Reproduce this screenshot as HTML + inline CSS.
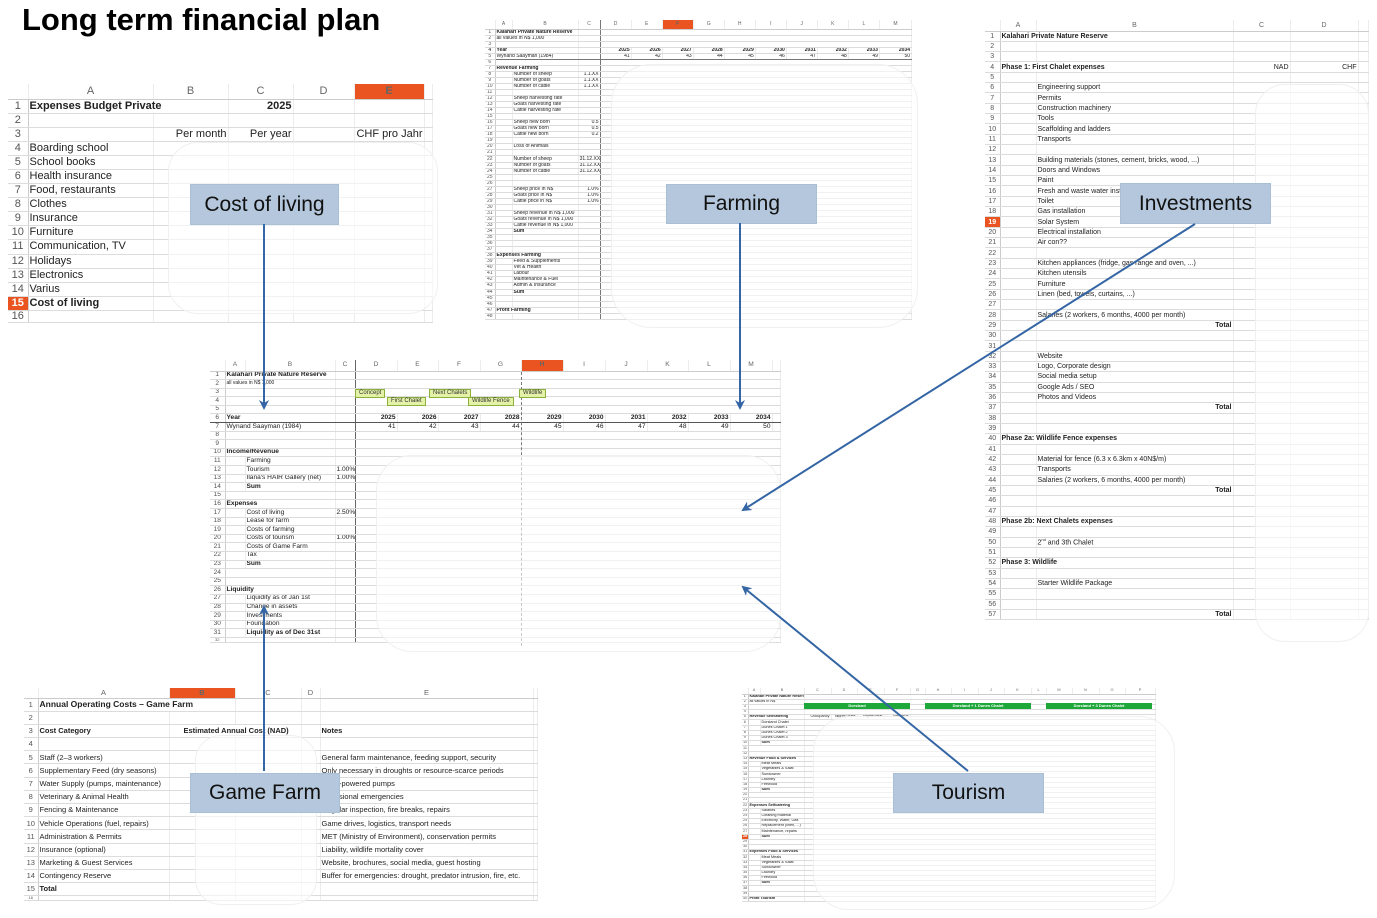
<!DOCTYPE html>
<html><head><meta charset="utf-8">
<style>
body{margin:0;width:1377px;height:918px;background:#fff;position:relative;overflow:hidden;font-family:"Liberation Sans",sans-serif;}
.a{position:absolute}
table.t{position:absolute;border-collapse:collapse;table-layout:fixed;font-family:"Liberation Sans",sans-serif;color:#222}
table.t td{padding:0 1px;white-space:nowrap;overflow:hidden;border-bottom:1px solid #dcdcdc;border-right:1px solid #ececec;line-height:1}
table.t tr.h td{color:#666;text-align:center;border-bottom:1px solid #ccc}
table.t td.n{color:#555;text-align:center;border-right:1px solid #ccc}
table.t td.o{background:#e95420;color:#fff;font-weight:bold}
.r{text-align:right}.b{font-weight:bold}
.ov{position:absolute;border:1px solid #f0f0f0;border-radius:30px;background:rgba(255,255,255,0.6)}
.lb{position:absolute;background:#b4c7dc;border:1px solid #a9bfd6;color:#111;font-size:21px;display:flex;align-items:center;justify-content:center;font-family:"Liberation Sans",sans-serif}
.tag{position:absolute;background:#e4f2a8;border:1px solid #8cb03c;font-size:6px;line-height:7px;height:7px;padding:0 3px;color:#333;font-family:"Liberation Sans",sans-serif}
.gb{position:absolute;background:#1ea83a;color:#fff;font-size:4px;text-align:center;line-height:6px;height:6px;font-family:"Liberation Sans",sans-serif;font-weight:bold}
</style></head><body>

<div class="a" style="left:22px;top:2px;font-size:31px;font-weight:bold;color:#000">Long term financial plan</div>

<!-- Sheet 1: Cost of living -->
<table class="t" style="left:8px;top:84px;width:424px;font-size:11px">
<colgroup><col style="width:20px"><col style="width:125px"><col style="width:75px"><col style="width:65px"><col style="width:61px"><col style="width:70px"><col style="width:8px"></colgroup>
<tr class="h" style="height:15px"><td></td><td>A</td><td>B</td><td>C</td><td>D</td><td class="o">E</td><td></td></tr>
<tr style="height:14.1px"><td class="n">1</td><td class="b" colspan="2">Expenses Budget Private</td><td class="r b">2025</td><td></td><td></td><td></td></tr>
<tr style="height:14.1px"><td class="n">2</td><td></td><td></td><td></td><td></td><td></td><td></td></tr>
<tr style="height:14.1px"><td class="n">3</td><td></td><td class="r">Per month</td><td class="r">Per year</td><td></td><td class="r">CHF pro Jahr</td><td></td></tr>
<tr style="height:14.1px"><td class="n">4</td><td>Boarding school</td><td></td><td></td><td></td><td></td><td></td></tr>
<tr style="height:14.1px"><td class="n">5</td><td>School books</td><td></td><td></td><td></td><td></td><td></td></tr>
<tr style="height:14.1px"><td class="n">6</td><td>Health insurance</td><td></td><td></td><td></td><td></td><td></td></tr>
<tr style="height:14.1px"><td class="n">7</td><td>Food, restaurants</td><td></td><td></td><td></td><td></td><td></td></tr>
<tr style="height:14.1px"><td class="n">8</td><td>Clothes</td><td></td><td></td><td></td><td></td><td></td></tr>
<tr style="height:14.1px"><td class="n">9</td><td>Insurance</td><td></td><td></td><td></td><td></td><td></td></tr>
<tr style="height:14.1px"><td class="n">10</td><td>Furniture</td><td></td><td></td><td></td><td></td><td></td></tr>
<tr style="height:14.1px"><td class="n">11</td><td>Communication, TV</td><td></td><td></td><td></td><td></td><td></td></tr>
<tr style="height:14.1px"><td class="n">12</td><td>Holidays</td><td></td><td></td><td></td><td></td><td></td></tr>
<tr style="height:14.1px"><td class="n">13</td><td>Electronics</td><td></td><td></td><td></td><td></td><td></td></tr>
<tr style="height:14.1px"><td class="n">14</td><td>Varius</td><td></td><td></td><td></td><td></td><td></td></tr>
<tr style="height:14.1px"><td class="n o">15</td><td class="b">Cost of living</td><td></td><td></td><td></td><td></td><td></td></tr>
<tr style="height:10px"><td class="n">16</td><td></td><td></td><td></td><td></td><td></td><td></td></tr>
</table>
<div class="ov" style="left:168px;top:142px;width:268px;height:170px"></div>

<!-- Sheet 2: Farming -->
<table class="t" style="left:485px;top:20px;width:427px;font-size:5px">
<colgroup><col style="width:10px"><col style="width:17px"><col style="width:66px"><col style="width:22px"><col style="width:31px"><col style="width:31px"><col style="width:31px"><col style="width:31px"><col style="width:31px"><col style="width:31px"><col style="width:31px"><col style="width:31px"><col style="width:31px"><col style="width:32px"></colgroup>
<tr class="h" style="height:9px"><td></td><td>A</td><td>B</td><td style="border-right:1px solid #777">C</td><td>D</td><td>E</td><td class="o">F</td><td>G</td><td>H</td><td>I</td><td>J</td><td>K</td><td>L</td><td>M</td></tr>
<tr style="height:6.05px"><td class="n">1</td><td colspan="2" class="b">Kalahari Private Nature Reserve</td><td style="border-right:1px solid #777"></td><td colspan="10"></td></tr>
<tr style="height:6.05px"><td class="n">2</td><td colspan="2">all values in N$ 1,000</td><td style="border-right:1px solid #777"></td><td colspan="10"></td></tr>
<tr style="height:6.05px"><td class="n">3</td><td colspan="2"></td><td style="border-right:1px solid #777"></td><td colspan="10"></td></tr>
<tr style="height:6.05px" class="b"><td class="n">4</td><td colspan="2">Year</td><td style="border-right:1px solid #777"></td><td class="r">2025</td><td class="r">2026</td><td class="r">2027</td><td class="r">2028</td><td class="r">2029</td><td class="r">2030</td><td class="r">2031</td><td class="r">2032</td><td class="r">2033</td><td class="r">2034</td></tr>
<tr style="height:6.05px"><td class="n">5</td><td colspan="2" style="border-bottom:1px solid #777">Wynand Saayman (1984)</td><td style="border-right:1px solid #777;border-bottom:1px solid #777"></td><td class="r" style="border-bottom:1px solid #777">41</td><td class="r" style="border-bottom:1px solid #777">42</td><td class="r" style="border-bottom:1px solid #777">43</td><td class="r" style="border-bottom:1px solid #777">44</td><td class="r" style="border-bottom:1px solid #777">45</td><td class="r" style="border-bottom:1px solid #777">46</td><td class="r" style="border-bottom:1px solid #777">47</td><td class="r" style="border-bottom:1px solid #777">48</td><td class="r" style="border-bottom:1px solid #777">49</td><td class="r" style="border-bottom:1px solid #777">50</td></tr>
<tr style="height:6.05px"><td class="n">6</td><td colspan="2"></td><td style="border-right:1px solid #777"></td><td colspan="10"></td></tr>
<tr style="height:6.05px"><td class="n">7</td><td colspan="2" class="b">Revenue Farming</td><td style="border-right:1px solid #777"></td><td colspan="10"></td></tr>
<tr style="height:6.05px"><td class="n">8</td><td></td><td>Number of sheep</td><td class="r" style="border-right:1px solid #777">1.1.XX</td><td colspan="10"></td></tr>
<tr style="height:6.05px"><td class="n">9</td><td></td><td>Number of goats</td><td class="r" style="border-right:1px solid #777">1.1.XX</td><td colspan="10"></td></tr>
<tr style="height:6.05px"><td class="n">10</td><td></td><td>Number of cattle</td><td class="r" style="border-right:1px solid #777">1.1.XX</td><td colspan="10"></td></tr>
<tr style="height:6.05px"><td class="n">11</td><td></td><td></td><td style="border-right:1px solid #777"></td><td colspan="10"></td></tr>
<tr style="height:6.05px"><td class="n">12</td><td></td><td>Sheep harvesting rate</td><td style="border-right:1px solid #777"></td><td colspan="10"></td></tr>
<tr style="height:6.05px"><td class="n">13</td><td></td><td>Goats harvesting rate</td><td style="border-right:1px solid #777"></td><td colspan="10"></td></tr>
<tr style="height:6.05px"><td class="n">14</td><td></td><td>Cattle harvesting rate</td><td style="border-right:1px solid #777"></td><td colspan="10"></td></tr>
<tr style="height:6.05px"><td class="n">15</td><td></td><td></td><td style="border-right:1px solid #777"></td><td colspan="10"></td></tr>
<tr style="height:6.05px"><td class="n">16</td><td></td><td>Sheep new born</td><td class="r" style="border-right:1px solid #777">0.5</td><td colspan="10"></td></tr>
<tr style="height:6.05px"><td class="n">17</td><td></td><td>Goats new born</td><td class="r" style="border-right:1px solid #777">0.5</td><td colspan="10"></td></tr>
<tr style="height:6.05px"><td class="n">18</td><td></td><td>Cattle new born</td><td class="r" style="border-right:1px solid #777">0.2</td><td colspan="10"></td></tr>
<tr style="height:6.05px"><td class="n">19</td><td></td><td></td><td style="border-right:1px solid #777"></td><td colspan="10"></td></tr>
<tr style="height:6.05px"><td class="n">20</td><td></td><td>Loss of Animals</td><td style="border-right:1px solid #777"></td><td colspan="10"></td></tr>
<tr style="height:6.05px"><td class="n">21</td><td></td><td></td><td style="border-right:1px solid #777"></td><td colspan="10"></td></tr>
<tr style="height:6.05px"><td class="n">22</td><td></td><td>Number of sheep</td><td class="r" style="border-right:1px solid #777">31.12.XX</td><td colspan="10"></td></tr>
<tr style="height:6.05px"><td class="n">23</td><td></td><td>Number of goats</td><td class="r" style="border-right:1px solid #777">31.12.XX</td><td colspan="10"></td></tr>
<tr style="height:6.05px"><td class="n">24</td><td></td><td>Number of cattle</td><td class="r" style="border-right:1px solid #777">31.12.XX</td><td colspan="10"></td></tr>
<tr style="height:6.05px"><td class="n">25</td><td></td><td></td><td style="border-right:1px solid #777"></td><td colspan="10"></td></tr>
<tr style="height:6.05px"><td class="n">26</td><td></td><td></td><td style="border-right:1px solid #777"></td><td colspan="10"></td></tr>
<tr style="height:6.05px"><td class="n">27</td><td></td><td>Sheep price in N$</td><td class="r" style="border-right:1px solid #777">1.0%</td><td colspan="10"></td></tr>
<tr style="height:6.05px"><td class="n">28</td><td></td><td>Goats price in N$</td><td class="r" style="border-right:1px solid #777">1.0%</td><td colspan="10"></td></tr>
<tr style="height:6.05px"><td class="n">29</td><td></td><td>Cattle price in N$</td><td class="r" style="border-right:1px solid #777">1.0%</td><td colspan="10"></td></tr>
<tr style="height:6.05px"><td class="n">30</td><td></td><td></td><td style="border-right:1px solid #777"></td><td colspan="10"></td></tr>
<tr style="height:6.05px"><td class="n">31</td><td></td><td>Sheep revenue in N$ 1,000</td><td style="border-right:1px solid #777"></td><td colspan="10"></td></tr>
<tr style="height:6.05px"><td class="n">32</td><td></td><td>Goats revenue in N$ 1,000</td><td style="border-right:1px solid #777"></td><td colspan="10"></td></tr>
<tr style="height:6.05px"><td class="n">33</td><td></td><td>Cattle revenue in N$ 1,000</td><td style="border-right:1px solid #777"></td><td colspan="10"></td></tr>
<tr style="height:6.05px"><td class="n">34</td><td></td><td class="b">Sum</td><td style="border-right:1px solid #777"></td><td colspan="10"></td></tr>
<tr style="height:6.05px"><td class="n">35</td><td></td><td></td><td style="border-right:1px solid #777"></td><td colspan="10"></td></tr>
<tr style="height:6.05px"><td class="n">36</td><td></td><td></td><td style="border-right:1px solid #777"></td><td colspan="10"></td></tr>
<tr style="height:6.05px"><td class="n">37</td><td></td><td></td><td style="border-right:1px solid #777"></td><td colspan="10"></td></tr>
<tr style="height:6.05px"><td class="n">38</td><td colspan="2" class="b">Expenses Farming</td><td style="border-right:1px solid #777"></td><td colspan="10"></td></tr>
<tr style="height:6.05px"><td class="n">39</td><td></td><td>Feed &amp; Supplements</td><td style="border-right:1px solid #777"></td><td colspan="10"></td></tr>
<tr style="height:6.05px"><td class="n">40</td><td></td><td>Vet &amp; Health</td><td style="border-right:1px solid #777"></td><td colspan="10"></td></tr>
<tr style="height:6.05px"><td class="n">41</td><td></td><td>Labour</td><td style="border-right:1px solid #777"></td><td colspan="10"></td></tr>
<tr style="height:6.05px"><td class="n">42</td><td></td><td>Maintenance &amp; Fuel</td><td style="border-right:1px solid #777"></td><td colspan="10"></td></tr>
<tr style="height:6.05px"><td class="n">43</td><td></td><td>Admin &amp; Insurance</td><td style="border-right:1px solid #777"></td><td colspan="10"></td></tr>
<tr style="height:6.05px"><td class="n">44</td><td></td><td class="b">Sum</td><td style="border-right:1px solid #777"></td><td colspan="10"></td></tr>
<tr style="height:6.05px"><td class="n">45</td><td></td><td></td><td style="border-right:1px solid #777"></td><td colspan="10"></td></tr>
<tr style="height:6.05px"><td class="n">46</td><td></td><td></td><td style="border-right:1px solid #777"></td><td colspan="10"></td></tr>
<tr style="height:6.05px"><td class="n">47</td><td colspan="2" class="b">Profit Farming</td><td style="border-right:1px solid #777"></td><td colspan="10"></td></tr>
<tr style="height:5px"><td class="n">48</td><td></td><td></td><td style="border-right:1px solid #777"></td><td colspan="10"></td></tr>
</table>
<div class="ov" style="left:611px;top:64px;width:305px;height:262px;border-radius:40px"></div>

<!-- Sheet 3: Investments -->
<table class="t" style="left:985px;top:20px;width:383px;font-size:7px">
<colgroup><col style="width:15px"><col style="width:36px"><col style="width:197px"><col style="width:57px"><col style="width:68px"><col style="width:10px"></colgroup>
<tr class="h" style="height:11px"><td></td><td>A</td><td>B</td><td>C</td><td>D</td><td></td></tr>
<tr style="height:10.34px"><td class="n">1</td><td colspan="2" class="b">Kalahari Private Nature Reserve</td><td></td><td></td><td></td></tr>
<tr style="height:10.34px"><td class="n">2</td><td></td><td></td><td></td><td></td><td></td></tr>
<tr style="height:10.34px"><td class="n">3</td><td></td><td></td><td></td><td></td><td></td></tr>
<tr style="height:10.34px"><td class="n">4</td><td colspan="2" class="b">Phase 1: First Chalet expenses</td><td class="r">NAD</td><td class="r">CHF</td><td></td></tr>
<tr style="height:10.34px"><td class="n">5</td><td></td><td></td><td></td><td></td><td></td></tr>
<tr style="height:10.34px"><td class="n">6</td><td></td><td>Engineering support</td><td></td><td></td><td></td></tr>
<tr style="height:10.34px"><td class="n">7</td><td></td><td>Permits</td><td></td><td></td><td></td></tr>
<tr style="height:10.34px"><td class="n">8</td><td></td><td>Construction machinery</td><td></td><td></td><td></td></tr>
<tr style="height:10.34px"><td class="n">9</td><td></td><td>Tools</td><td></td><td></td><td></td></tr>
<tr style="height:10.34px"><td class="n">10</td><td></td><td>Scaffolding and ladders</td><td></td><td></td><td></td></tr>
<tr style="height:10.34px"><td class="n">11</td><td></td><td>Transports</td><td></td><td></td><td></td></tr>
<tr style="height:10.34px"><td class="n">12</td><td></td><td></td><td></td><td></td><td></td></tr>
<tr style="height:10.34px"><td class="n">13</td><td></td><td>Building materials (stones, cement, bricks, wood, ...)</td><td></td><td></td><td></td></tr>
<tr style="height:10.34px"><td class="n">14</td><td></td><td>Doors and Windows</td><td></td><td></td><td></td></tr>
<tr style="height:10.34px"><td class="n">15</td><td></td><td>Paint</td><td></td><td></td><td></td></tr>
<tr style="height:10.34px"><td class="n">16</td><td></td><td>Fresh and waste water installation</td><td></td><td></td><td></td></tr>
<tr style="height:10.34px"><td class="n">17</td><td></td><td>Toilet</td><td></td><td></td><td></td></tr>
<tr style="height:10.34px"><td class="n">18</td><td></td><td>Gas installation</td><td></td><td></td><td></td></tr>
<tr style="height:10.34px"><td class="n o">19</td><td></td><td>Solar System</td><td></td><td></td><td></td></tr>
<tr style="height:10.34px"><td class="n">20</td><td></td><td>Electrical installation</td><td></td><td></td><td></td></tr>
<tr style="height:10.34px"><td class="n">21</td><td></td><td>Air con??</td><td></td><td></td><td></td></tr>
<tr style="height:10.34px"><td class="n">22</td><td></td><td></td><td></td><td></td><td></td></tr>
<tr style="height:10.34px"><td class="n">23</td><td></td><td>Kitchen appliances (fridge, gas range and oven, ...)</td><td></td><td></td><td></td></tr>
<tr style="height:10.34px"><td class="n">24</td><td></td><td>Kitchen utensils</td><td></td><td></td><td></td></tr>
<tr style="height:10.34px"><td class="n">25</td><td></td><td>Furniture</td><td></td><td></td><td></td></tr>
<tr style="height:10.34px"><td class="n">26</td><td></td><td>Linen (bed, towels, curtains, ...)</td><td></td><td></td><td></td></tr>
<tr style="height:10.34px"><td class="n">27</td><td></td><td></td><td></td><td></td><td></td></tr>
<tr style="height:10.34px"><td class="n">28</td><td></td><td>Salaries (2 workers, 6 months, 4000 per month)</td><td></td><td></td><td></td></tr>
<tr style="height:10.34px"><td class="n">29</td><td></td><td class="r b">Total</td><td></td><td></td><td></td></tr>
<tr style="height:10.34px"><td class="n">30</td><td></td><td></td><td></td><td></td><td></td></tr>
<tr style="height:10.34px"><td class="n">31</td><td></td><td></td><td></td><td></td><td></td></tr>
<tr style="height:10.34px"><td class="n">32</td><td></td><td>Website</td><td></td><td></td><td></td></tr>
<tr style="height:10.34px"><td class="n">33</td><td></td><td>Logo, Corporate design</td><td></td><td></td><td></td></tr>
<tr style="height:10.34px"><td class="n">34</td><td></td><td>Social media setup</td><td></td><td></td><td></td></tr>
<tr style="height:10.34px"><td class="n">35</td><td></td><td>Google Ads / SEO</td><td></td><td></td><td></td></tr>
<tr style="height:10.34px"><td class="n">36</td><td></td><td>Photos and Videos</td><td></td><td></td><td></td></tr>
<tr style="height:10.34px"><td class="n">37</td><td></td><td class="r b">Total</td><td></td><td></td><td></td></tr>
<tr style="height:10.34px"><td class="n">38</td><td></td><td></td><td></td><td></td><td></td></tr>
<tr style="height:10.34px"><td class="n">39</td><td></td><td></td><td></td><td></td><td></td></tr>
<tr style="height:10.34px"><td class="n">40</td><td colspan="2" class="b">Phase 2a: Wildlife Fence expenses</td><td></td><td></td><td></td></tr>
<tr style="height:10.34px"><td class="n">41</td><td></td><td></td><td></td><td></td><td></td></tr>
<tr style="height:10.34px"><td class="n">42</td><td></td><td>Material for fence (6.3 x 6.3km x 40N$/m)</td><td></td><td></td><td></td></tr>
<tr style="height:10.34px"><td class="n">43</td><td></td><td>Transports</td><td></td><td></td><td></td></tr>
<tr style="height:10.34px"><td class="n">44</td><td></td><td>Salaries (2 workers, 6 months, 4000 per month)</td><td></td><td></td><td></td></tr>
<tr style="height:10.34px"><td class="n">45</td><td></td><td class="r b">Total</td><td></td><td></td><td></td></tr>
<tr style="height:10.34px"><td class="n">46</td><td></td><td></td><td></td><td></td><td></td></tr>
<tr style="height:10.34px"><td class="n">47</td><td></td><td></td><td></td><td></td><td></td></tr>
<tr style="height:10.34px"><td class="n">48</td><td colspan="2" class="b">Phase 2b: Next Chalets expenses</td><td></td><td></td><td></td></tr>
<tr style="height:10.34px"><td class="n">49</td><td></td><td></td><td></td><td></td><td></td></tr>
<tr style="height:10.34px"><td class="n">50</td><td></td><td>2<sup style="font-size:4px">nd</sup> and 3th Chalet</td><td></td><td></td><td></td></tr>
<tr style="height:10.34px"><td class="n">51</td><td></td><td></td><td></td><td></td><td></td></tr>
<tr style="height:10.34px"><td class="n">52</td><td colspan="2" class="b">Phase 3: Wildlife</td><td></td><td></td><td></td></tr>
<tr style="height:10.34px"><td class="n">53</td><td></td><td></td><td></td><td></td><td></td></tr>
<tr style="height:10.34px"><td class="n">54</td><td></td><td>Starter Wildlife Package</td><td></td><td></td><td></td></tr>
<tr style="height:10.34px"><td class="n">55</td><td></td><td></td><td></td><td></td><td></td></tr>
<tr style="height:10.34px"><td class="n">56</td><td></td><td></td><td></td><td></td><td></td></tr>
<tr style="height:10.34px"><td class="n">57</td><td></td><td class="r b">Total</td><td></td><td></td><td></td></tr>
</table>
<div class="ov" style="left:1255px;top:84px;width:112px;height:556px"></div>

<!-- Sheet 4: Main -->
<table class="t" style="left:210px;top:360px;width:570px;font-size:6.6px">
<colgroup><col style="width:15px"><col style="width:20px"><col style="width:90px"><col style="width:20px"><col style="width:42px"><col style="width:41px"><col style="width:42px"><col style="width:41px"><col style="width:42px"><col style="width:42px"><col style="width:42px"><col style="width:41px"><col style="width:42px"><col style="width:42px"><col style="width:8px"></colgroup>
<tr class="h" style="height:11px"><td></td><td>A</td><td>B</td><td style="border-right:1.5px solid #666">C</td><td>D</td><td>E</td><td>F</td><td>G</td><td class="o">H</td><td>I</td><td>J</td><td>K</td><td>L</td><td>M</td><td></td></tr>
<tr style="height:8.6px"><td class="n">1</td><td colspan="2" class="b">Kalahari Private Nature Reserve</td><td style="border-right:1.5px solid #666"></td><td colspan="11"></td></tr>
<tr style="height:8.6px"><td class="n">2</td><td colspan="2" style="font-size:5px">all values in N$ 1,000</td><td style="border-right:1.5px solid #666"></td><td colspan="11"></td></tr>
<tr style="height:8.6px"><td class="n">3</td><td colspan="2"></td><td style="border-right:1.5px solid #666"></td><td colspan="11"></td></tr>
<tr style="height:8.6px"><td class="n">4</td><td colspan="2"></td><td style="border-right:1.5px solid #666"></td><td colspan="11"></td></tr>
<tr style="height:8.6px"><td class="n">5</td><td colspan="2"></td><td style="border-right:1.5px solid #666"></td><td colspan="11"></td></tr>
<tr style="height:8.6px" class="b"><td class="n" style="font-weight:normal;border-bottom:1.5px solid #555">6</td><td colspan="2" style="border-bottom:1.5px solid #555">Year</td><td style="border-right:1.5px solid #666;border-bottom:1.5px solid #555"></td><td class="r" style="border-bottom:1.5px solid #555">2025</td><td class="r" style="border-bottom:1.5px solid #555">2026</td><td class="r" style="border-bottom:1.5px solid #555">2027</td><td class="r" style="border-bottom:1.5px solid #555">2028</td><td class="r" style="border-bottom:1.5px solid #555">2029</td><td class="r" style="border-bottom:1.5px solid #555">2030</td><td class="r" style="border-bottom:1.5px solid #555">2031</td><td class="r" style="border-bottom:1.5px solid #555">2032</td><td class="r" style="border-bottom:1.5px solid #555">2033</td><td class="r" style="border-bottom:1.5px solid #555">2034</td><td style="border-bottom:1.5px solid #555"></td></tr>
<tr style="height:8.6px"><td class="n">7</td><td colspan="2">Wynand Saayman (1984)</td><td style="border-right:1.5px solid #666"></td><td class="r">41</td><td class="r">42</td><td class="r">43</td><td class="r">44</td><td class="r">45</td><td class="r">46</td><td class="r">47</td><td class="r">48</td><td class="r">49</td><td class="r">50</td><td></td></tr>
<tr style="height:8.6px"><td class="n">8</td><td colspan="2"></td><td style="border-right:1.5px solid #666"></td><td colspan="11"></td></tr>
<tr style="height:8.6px"><td class="n">9</td><td colspan="2"></td><td style="border-right:1.5px solid #666"></td><td colspan="11"></td></tr>
<tr style="height:8.6px"><td class="n">10</td><td colspan="2" class="b">Income/Revenue</td><td style="border-right:1.5px solid #666"></td><td colspan="11"></td></tr>
<tr style="height:8.6px"><td class="n">11</td><td></td><td>Farming</td><td style="border-right:1.5px solid #666"></td><td colspan="11"></td></tr>
<tr style="height:8.6px"><td class="n">12</td><td></td><td>Tourism</td><td class="r" style="border-right:1.5px solid #666">1.00%</td><td colspan="11"></td></tr>
<tr style="height:8.6px"><td class="n">13</td><td></td><td>Ilana's HAIR Gallery (net)</td><td class="r" style="border-right:1.5px solid #666">1.00%</td><td colspan="11"></td></tr>
<tr style="height:8.6px"><td class="n">14</td><td></td><td class="b">Sum</td><td style="border-right:1.5px solid #666"></td><td colspan="11"></td></tr>
<tr style="height:8.6px"><td class="n">15</td><td colspan="2"></td><td style="border-right:1.5px solid #666"></td><td colspan="11"></td></tr>
<tr style="height:8.6px"><td class="n">16</td><td colspan="2" class="b">Expenses</td><td style="border-right:1.5px solid #666"></td><td colspan="11"></td></tr>
<tr style="height:8.6px"><td class="n">17</td><td></td><td>Cost of living</td><td class="r" style="border-right:1.5px solid #666">2.50%</td><td colspan="11"></td></tr>
<tr style="height:8.6px"><td class="n">18</td><td></td><td>Lease for farm</td><td style="border-right:1.5px solid #666"></td><td colspan="11"></td></tr>
<tr style="height:8.6px"><td class="n">19</td><td></td><td>Costs of farming</td><td style="border-right:1.5px solid #666"></td><td colspan="11"></td></tr>
<tr style="height:8.6px"><td class="n">20</td><td></td><td>Costs of tourism</td><td class="r" style="border-right:1.5px solid #666">1.00%</td><td colspan="11"></td></tr>
<tr style="height:8.6px"><td class="n">21</td><td></td><td>Costs of Game Farm</td><td style="border-right:1.5px solid #666"></td><td colspan="11"></td></tr>
<tr style="height:8.6px"><td class="n">22</td><td></td><td>Tax</td><td style="border-right:1.5px solid #666"></td><td colspan="11"></td></tr>
<tr style="height:8.6px"><td class="n">23</td><td></td><td class="b">Sum</td><td style="border-right:1.5px solid #666"></td><td colspan="11"></td></tr>
<tr style="height:8.6px"><td class="n">24</td><td colspan="2"></td><td style="border-right:1.5px solid #666"></td><td colspan="11"></td></tr>
<tr style="height:8.6px"><td class="n">25</td><td colspan="2"></td><td style="border-right:1.5px solid #666"></td><td colspan="11"></td></tr>
<tr style="height:8.6px"><td class="n">26</td><td colspan="2" class="b">Liquidity</td><td style="border-right:1.5px solid #666"></td><td colspan="11"></td></tr>
<tr style="height:8.6px"><td class="n">27</td><td></td><td>Liquidity as of Jan 1st</td><td style="border-right:1.5px solid #666"></td><td colspan="11"></td></tr>
<tr style="height:8.6px"><td class="n">28</td><td></td><td>Change in assets</td><td style="border-right:1.5px solid #666"></td><td colspan="11"></td></tr>
<tr style="height:8.6px"><td class="n">29</td><td></td><td>Investments</td><td style="border-right:1.5px solid #666"></td><td colspan="11"></td></tr>
<tr style="height:8.6px"><td class="n">30</td><td></td><td>Foundation</td><td style="border-right:1.5px solid #666"></td><td colspan="11"></td></tr>
<tr style="height:8.6px"><td class="n">31</td><td></td><td class="b">Liquidity as of Dec 31st</td><td style="border-right:1.5px solid #666"></td><td colspan="11"></td></tr>
<tr style="height:4px"><td class="n" style="font-size:4px">32</td><td colspan="2"></td><td style="border-right:1.5px solid #666"></td><td colspan="11"></td></tr>
</table>
<div class="a" style="left:521px;top:372px;height:274px;border-left:1px dashed #777"></div>
<div class="ov" style="left:376px;top:455px;width:403px;height:195px;border-radius:36px"></div>
<div class="tag" style="left:355px;top:389px">Concept</div>
<div class="tag" style="left:387px;top:397px">First Chalet</div>
<div class="tag" style="left:429px;top:389px">Next Chalets</div>
<div class="tag" style="left:468px;top:397px">Wildlife Fence</div>
<div class="tag" style="left:519px;top:389px">Wildlife</div>

<!-- Sheet 5: Game Farm -->
<table class="t" style="left:24px;top:688px;width:513px;font-size:7.5px">
<colgroup><col style="width:14px"><col style="width:131px"><col style="width:66px"><col style="width:66px"><col style="width:19px"><col style="width:213px"><col style="width:4px"></colgroup>
<tr class="h" style="height:10px"><td></td><td>A</td><td class="o">B</td><td>C</td><td>D</td><td>E</td><td></td></tr>
<tr style="height:13.2px"><td class="n">1</td><td colspan="2" class="b" style="font-size:8.5px">Annual Operating Costs – Game Farm</td><td></td><td></td><td></td><td></td></tr>
<tr style="height:13.2px"><td class="n">2</td><td></td><td></td><td></td><td></td><td></td><td></td></tr>
<tr style="height:13.2px"><td class="n">3</td><td class="b">Cost Category</td><td colspan="2" class="b" style="padding-left:14px">Estimated Annual Cost (NAD)</td><td></td><td class="b">Notes</td><td></td></tr>
<tr style="height:13.2px"><td class="n">4</td><td></td><td></td><td></td><td></td><td></td><td></td></tr>
<tr style="height:13.2px"><td class="n">5</td><td>Staff (2–3 workers)</td><td></td><td></td><td></td><td>General farm maintenance, feeding support, security</td><td></td></tr>
<tr style="height:13.2px"><td class="n">6</td><td>Supplementary Feed (dry seasons)</td><td></td><td></td><td></td><td>Only necessary in droughts or resource-scarce periods</td><td></td></tr>
<tr style="height:13.2px"><td class="n">7</td><td>Water Supply (pumps, maintenance)</td><td></td><td></td><td></td><td>Solar-powered pumps</td><td></td></tr>
<tr style="height:13.2px"><td class="n">8</td><td>Veterinary &amp; Animal Health</td><td></td><td></td><td></td><td>Occasional emergencies</td><td></td></tr>
<tr style="height:13.2px"><td class="n">9</td><td>Fencing &amp; Maintenance</td><td></td><td></td><td></td><td>Regular inspection, fire breaks, repairs</td><td></td></tr>
<tr style="height:13.2px"><td class="n">10</td><td>Vehicle Operations (fuel, repairs)</td><td></td><td></td><td></td><td>Game drives, logistics, transport needs</td><td></td></tr>
<tr style="height:13.2px"><td class="n">11</td><td>Administration &amp; Permits</td><td></td><td></td><td></td><td>MET (Ministry of Environment), conservation permits</td><td></td></tr>
<tr style="height:13.2px"><td class="n">12</td><td>Insurance (optional)</td><td></td><td></td><td></td><td>Liability, wildlife mortality cover</td><td></td></tr>
<tr style="height:13.2px"><td class="n">13</td><td>Marketing &amp; Guest Services</td><td></td><td></td><td></td><td>Website, brochures, social media, guest hosting</td><td></td></tr>
<tr style="height:13.2px"><td class="n">14</td><td>Contingency Reserve</td><td></td><td></td><td></td><td>Buffer for emergencies: drought, predator intrusion, fire, etc.</td><td></td></tr>
<tr style="height:13.2px"><td class="n">15</td><td class="b">Total</td><td></td><td></td><td></td><td></td><td></td></tr>
<tr style="height:5px"><td class="n" style="font-size:4px">16</td><td></td><td></td><td></td><td></td><td></td><td></td></tr>
</table>
<div class="ov" style="left:195px;top:735px;width:120px;height:168px;border-radius:26px"></div>

<!-- Sheet 6: Tourism -->
<table class="t" style="left:742px;top:688px;width:413px;font-size:3.8px">
<colgroup><col style="width:6px"><col style="width:12px"><col style="width:44px"><col style="width:27px"><col style="width:26px"><col style="width:27px"><col style="width:26px"><col style="width:15px"><col style="width:26px"><col style="width:27px"><col style="width:26px"><col style="width:27px"><col style="width:15px"><col style="width:26px"><col style="width:27px"><col style="width:26px"><col style="width:30px"></colgroup>
<tr class="h" style="height:6px"><td></td><td>A</td><td>B</td><td>C</td><td>D</td><td>E</td><td>F</td><td>G</td><td>H</td><td>I</td><td>J</td><td>K</td><td>L</td><td>M</td><td>N</td><td>O</td><td>P</td></tr>
<tr style="height:5.2px"><td class="n">1</td><td colspan="2" class="b">Kalahari Private Nature Reserve</td><td colspan="14"></td></tr>
<tr style="height:5.2px"><td class="n">2</td><td colspan="2">all values in N$</td><td colspan="14"></td></tr>
<tr style="height:5.2px"><td class="n">3</td><td colspan="2"></td><td colspan="14"></td></tr>
<tr style="height:5.2px"><td class="n">4</td><td colspan="2"></td><td colspan="14"></td></tr>
<tr style="height:5.2px"><td class="n">5</td><td colspan="2" class="b">Revenue Selfcatering</td><td class="r">Occupancy</td><td class="r">Nightly Rate</td><td class="r">Nights/Year</td><td class="r">Revenue</td><td colspan="10"></td></tr>
<tr style="height:5.2px"><td class="n">6</td><td></td><td>Dorsland Chalet</td><td colspan="14"></td></tr>
<tr style="height:5.2px"><td class="n">7</td><td></td><td>Dunes Chalet 1</td><td colspan="14"></td></tr>
<tr style="height:5.2px"><td class="n">8</td><td></td><td>Dunes Chalet 2</td><td colspan="14"></td></tr>
<tr style="height:5.2px"><td class="n">9</td><td></td><td>Dunes Chalet 3</td><td colspan="14"></td></tr>
<tr style="height:5.2px"><td class="n">10</td><td></td><td class="b">Sum</td><td colspan="14"></td></tr>
<tr style="height:5.2px"><td class="n">11</td><td colspan="2"></td><td colspan="14"></td></tr>
<tr style="height:5.2px"><td class="n">12</td><td colspan="2"></td><td colspan="14"></td></tr>
<tr style="height:5.2px"><td class="n">13</td><td colspan="2" class="b">Revenue Food &amp; Services</td><td colspan="14"></td></tr>
<tr style="height:5.2px"><td class="n">14</td><td></td><td>Meat Meals</td><td colspan="14"></td></tr>
<tr style="height:5.2px"><td class="n">15</td><td></td><td>Vegetables &amp; Salat</td><td colspan="14"></td></tr>
<tr style="height:5.2px"><td class="n">16</td><td></td><td>Sundowner</td><td colspan="14"></td></tr>
<tr style="height:5.2px"><td class="n">17</td><td></td><td>Laundry</td><td colspan="14"></td></tr>
<tr style="height:5.2px"><td class="n">18</td><td></td><td>Firewood</td><td colspan="14"></td></tr>
<tr style="height:5.2px"><td class="n">19</td><td></td><td class="b">Sum</td><td colspan="14"></td></tr>
<tr style="height:5.2px"><td class="n">20</td><td colspan="2"></td><td colspan="14"></td></tr>
<tr style="height:5.2px"><td class="n">21</td><td colspan="2"></td><td colspan="14"></td></tr>
<tr style="height:5.2px"><td class="n">22</td><td colspan="2" class="b">Expenses Selfcatering</td><td colspan="14"></td></tr>
<tr style="height:5.2px"><td class="n">23</td><td></td><td>Salaries</td><td colspan="14"></td></tr>
<tr style="height:5.2px"><td class="n">24</td><td></td><td>Cleaning material</td><td colspan="14"></td></tr>
<tr style="height:5.2px"><td class="n">25</td><td></td><td>Electricity, Water, Gas</td><td colspan="14"></td></tr>
<tr style="height:5.2px"><td class="n">26</td><td></td><td>Replacement (linen, ...)</td><td colspan="14"></td></tr>
<tr style="height:5.2px"><td class="n">27</td><td></td><td>Maintenance, repairs</td><td colspan="14"></td></tr>
<tr style="height:5.2px"><td class="n o">28</td><td></td><td class="b">Sum</td><td colspan="14"></td></tr>
<tr style="height:5.2px"><td class="n">29</td><td colspan="2"></td><td colspan="14"></td></tr>
<tr style="height:5.2px"><td class="n">30</td><td colspan="2"></td><td colspan="14"></td></tr>
<tr style="height:5.2px"><td class="n">31</td><td colspan="2" class="b">Expenses Food &amp; Services</td><td colspan="14"></td></tr>
<tr style="height:5.2px"><td class="n">32</td><td></td><td>Meat Meals</td><td colspan="14"></td></tr>
<tr style="height:5.2px"><td class="n">33</td><td></td><td>Vegetables &amp; Salat</td><td colspan="14"></td></tr>
<tr style="height:5.2px"><td class="n">34</td><td></td><td>Sundowner</td><td colspan="14"></td></tr>
<tr style="height:5.2px"><td class="n">35</td><td></td><td>Laundry</td><td colspan="14"></td></tr>
<tr style="height:5.2px"><td class="n">36</td><td></td><td>Firewood</td><td colspan="14"></td></tr>
<tr style="height:5.2px"><td class="n">37</td><td></td><td class="b">Sum</td><td colspan="14"></td></tr>
<tr style="height:5.2px"><td class="n">38</td><td colspan="2"></td><td colspan="14"></td></tr>
<tr style="height:5.2px"><td class="n">39</td><td colspan="2"></td><td colspan="14"></td></tr>
<tr style="height:5.2px"><td class="n">40</td><td colspan="2" class="b">Profit Tourism</td><td colspan="14"></td></tr>
</table>
<div class="gb" style="left:804px;top:703px;width:106px">Dorsland</div>
<div class="gb" style="left:925px;top:703px;width:106px">Dorsland + 1 Dunes Chalet</div>
<div class="gb" style="left:1046px;top:703px;width:106px">Dorsland + 3 Dunes Chalet</div>
<div class="ov" style="left:813px;top:716px;width:360px;height:192px;border-radius:36px"></div>

<!-- Labels -->
<div class="lb" style="left:190px;top:184px;width:147px;height:39px">Cost of living</div>
<div class="lb" style="left:666px;top:184px;width:149px;height:38px">Farming</div>
<div class="lb" style="left:1120px;top:183px;width:149px;height:39px">Investments</div>
<div class="lb" style="left:190px;top:773px;width:148px;height:38px">Game Farm</div>
<div class="lb" style="left:893px;top:773px;width:149px;height:38px">Tourism</div>

<!-- Connectors -->
<svg class="a" style="left:0;top:0" width="1377" height="918">
<defs><marker id="ar" markerWidth="10" markerHeight="10" refX="8" refY="5" orient="auto" markerUnits="userSpaceOnUse"><path d="M0,0 L10,5 L0,10 L3,5 Z" fill="#3465a4"/></marker></defs>
<g stroke="#3465a4" stroke-width="2" fill="none">
<line x1="264" y1="224" x2="264" y2="408" marker-end="url(#ar)"/>
<line x1="740" y1="223" x2="740" y2="408" marker-end="url(#ar)"/>
<line x1="1195" y1="224" x2="743" y2="510" marker-end="url(#ar)"/>
<line x1="968" y1="771" x2="743" y2="587" marker-end="url(#ar)"/>
<line x1="264" y1="771" x2="264" y2="607" marker-end="url(#ar)"/>
</g></svg>
</body></html>
